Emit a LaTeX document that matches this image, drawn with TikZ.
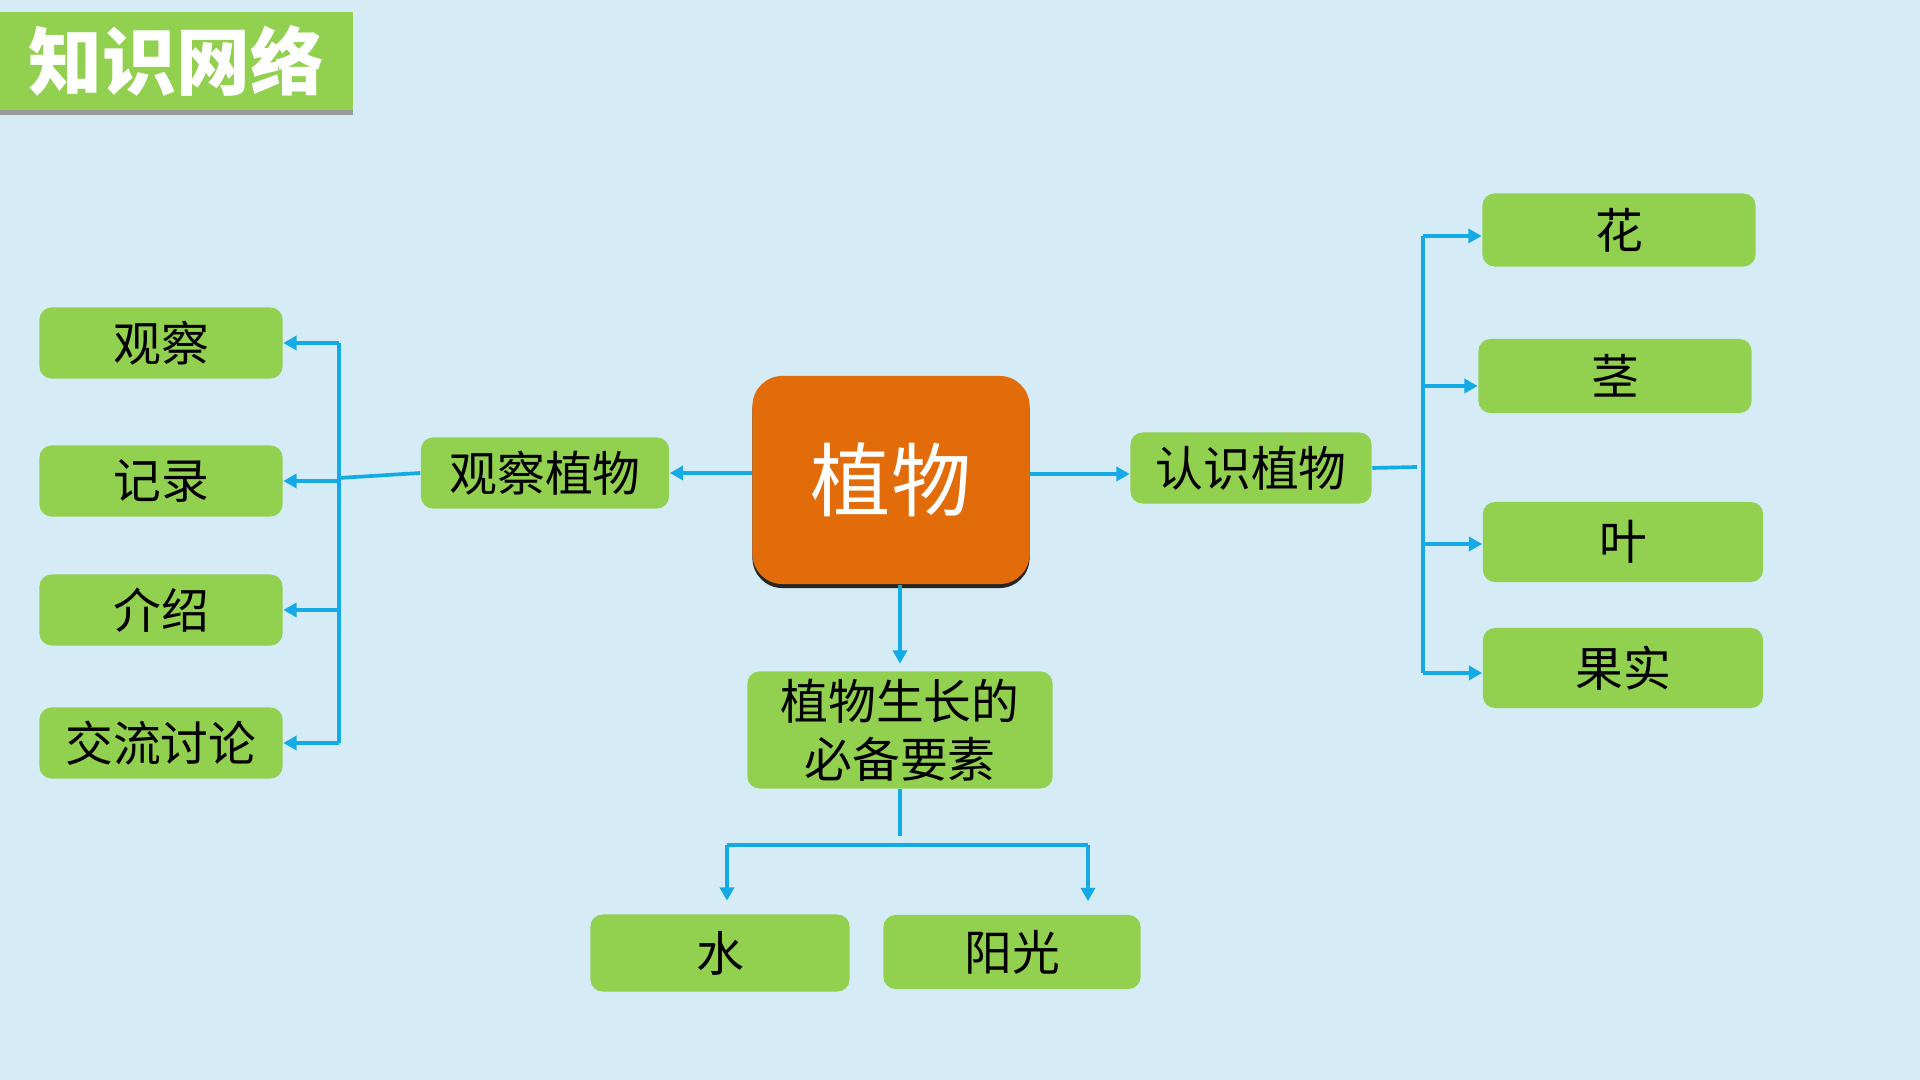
\documentclass[tikz,border=0pt]{standalone}
\usepackage{fontspec}
\newfontfamily\cjk{Noto Sans CJK SC}
\usetikzlibrary{arrows.meta, positioning, shadows}
\definecolor{bgblue}{HTML}{D5ECF7}
\definecolor{leafgreen}{HTML}{92D050}
\definecolor{rootorange}{HTML}{E36C0A}
\definecolor{linkblue}{HTML}{14AAE6}
\tikzset{
  leaf/.style={fill=leafgreen, rounded corners=0.12cm, inner sep=0pt,
    minimum width=2.45cm, minimum height=0.71cm,
    font=\cjk\fontsize{13.6pt}{16.5pt}\selectfont},
  conn/.style={draw=linkblue, line width=1.05pt},
  arr/.style={-{Triangle[length=3.8pt,width=4pt]}},
}

\begin{document}
\begin{tikzpicture}[x=0.01cm, y=-0.01cm]
  \useasboundingbox (0,0) rectangle (1920,1080);
  \fill[bgblue] (0,0) rectangle (1920,1080);

  % title
  \node[fill=leafgreen, minimum width=3.53cm, minimum height=0.98cm, inner sep=0pt,
        drop shadow={shadow xshift=0pt, shadow yshift=-0.05cm, fill=black!40, opacity=1},
        text=white, font=\cjk\bfseries\fontsize{21pt}{24pt}\selectfont]
        (title) at (176.5,61) {知识网络};

  % root
  \node[fill=rootorange, rounded corners=0.3cm, minimum width=2.77cm, minimum height=2.08cm,
        drop shadow={shadow xshift=0pt, shadow yshift=-0.04cm, fill=black!85, opacity=1},
        text=white, font=\cjk\fontsize{22.8pt}{26pt}\selectfont]
        (zw) at (891,480) {植物};

  % left branch
  \node[leaf, minimum width=2.48cm] (gczw) at (545,473) {观察植物};
  \foreach \name/\txt/\y in {gc/观察/343, jl/记录/481, js/介绍/610, jljl/交流讨论/743}{
    \node[leaf, minimum width=2.43cm] (\name) at (161,\y) {\txt};
  }
  \coordinate (lbar) at (339,478);

  % right branch
  \node[leaf, minimum width=2.41cm] (rszw) at (1251,468) {认识植物};
  \node[leaf, minimum width=2.73cm, minimum height=0.73cm] (hua) at (1619,230) {花};
  \node[leaf, minimum width=2.73cm, minimum height=0.74cm] (jing) at (1615,376) {茎};
  \node[leaf, minimum width=2.80cm, minimum height=0.80cm] (ye) at (1623,542) {叶};
  \node[leaf, minimum width=2.80cm, minimum height=0.80cm] (gs) at (1623,668) {果实};
  \coordinate (rbar) at (1423,467);

  % bottom branch
  \node[leaf, minimum width=3.05cm, minimum height=1.17cm, align=center] (ys) at (900,730)
        {植物生长的\\必备要素};
  \node[leaf, minimum width=2.59cm, minimum height=0.77cm] (shui) at (720,953) {水};
  \node[leaf, minimum width=2.57cm, minimum height=0.74cm] (yg) at (1012,952) {阳光};
  \coordinate (bl) at (727,845);
  \coordinate (br) at (1088,845);

  % connectors
  \draw[conn, arr] (zw.west |- gczw.east) -- (gczw.east);
  \draw[conn] (gczw.west) -- (lbar);
  \draw[conn] (lbar |- gc.east) -- (lbar |- jljl.east);
  \foreach \name in {gc, jl, js, jljl}{
    \draw[conn, arr] (lbar |- \name.east) -- (\name.east);
  }

  \draw[conn, arr] ([yshift=-0.06cm]zw.east |- rszw.west) -- ([yshift=-0.06cm]rszw.west);
  \draw[conn] (rszw.east) -- ([xshift=-0.06cm]rbar);
  \draw[conn] ([yshift=-0.06cm]rbar |- hua.west) -- ([yshift=-0.05cm]rbar |- gs.west);
  \foreach \name/\dy in {hua/-0.06, jing/-0.1, ye/-0.02, gs/-0.05}{
    \draw[conn, arr] ([yshift=\dy cm]rbar |- \name.west) -- ([yshift=\dy cm]\name.west);
  }

  \draw[conn, arr, shorten >=0.07cm] (zw.south -| ys.north) -- (ys.north);
  \draw[conn] (ys.south) -- ([yshift=0.09cm]ys.south |- bl);
  \draw[conn] (bl) -- (br);
  \draw[conn, arr, shorten >=0.13cm] (bl) -- (bl |- shui.north);
  \draw[conn, arr, shorten >=0.13cm] (br) -- (br |- yg.north);
\end{tikzpicture}
\end{document}
